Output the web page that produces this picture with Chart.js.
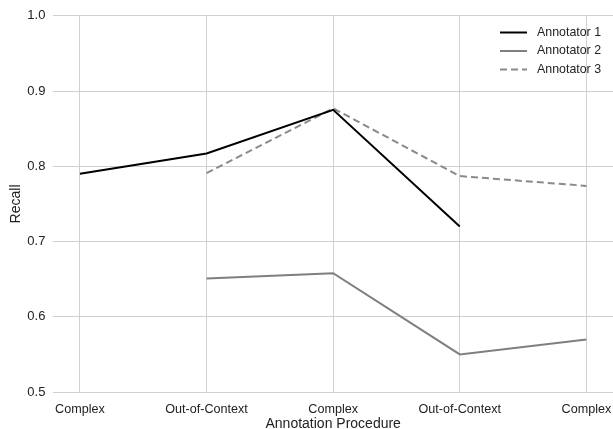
<!DOCTYPE html>
<html>
<head>
<meta charset="utf-8">
<script src="https://cdn.jsdelivr.net/npm/chart.js@4/dist/chart.umd.min.js"></script>
<style>
    html, body { margin: 0; padding: 0; background: #fff; }
    #wrap { width: 613px; height: 429px; position: relative; }
</style>
</head>
<body>
<div id="wrap"><canvas id="chart"></canvas></div>
<script>
// Chart data
const categories = ['Complex', 'Out-of-Context', 'Complex', 'Out-of-Context', 'Complex'];
const annotator1 = [0.790, 0.817, 0.875, 0.720, null];
const annotator2 = [null, 0.651, 0.658, 0.550, 0.570];
const annotator3 = [null, 0.791, 0.877, 0.787, 0.774];
const yTicks = [0.5, 0.6, 0.7, 0.8, 0.9, 1.0];

const FONT = '"Liberation Sans", Arial, Helvetica, sans-serif';
const TEXT = '#222';

function toPoints(values) {
    return values.map((v, i) => ({ x: i, y: v }));
}

// Legend drawn inside the plot, top right
const insideLegend = {
    id: 'insideLegend',
    afterDraw(chart) {
        const ctx = chart.ctx;
        const x0 = 500, y0 = 32.5, rowH = 18.5;
        ctx.save();
        ctx.font = '12.4px ' + FONT;
        ctx.textBaseline = 'middle';
        chart.data.datasets.forEach((ds, i) => {
            const y = y0 + i * rowH;
            ctx.strokeStyle = ds.borderColor;
            ctx.lineWidth = ds.borderWidth;
            ctx.setLineDash(ds.borderDash || []);
            ctx.beginPath();
            ctx.moveTo(x0, y);
            ctx.lineTo(x0 + 27, y);
            ctx.stroke();
            ctx.setLineDash([]);
            ctx.fillStyle = TEXT;
            ctx.fillText(ds.label, x0 + 37, y);
        });
        ctx.restore();
    }
};

new Chart(document.getElementById('chart'), {
    type: 'line',
    data: {
        datasets: [
            { label: 'Annotator 1', data: toPoints(annotator1), borderColor: '#000000', borderWidth: 2 },
            { label: 'Annotator 2', data: toPoints(annotator2), borderColor: '#7f7f7f', borderWidth: 2 },
            { label: 'Annotator 3', data: toPoints(annotator3), borderColor: '#8a8a8a', borderWidth: 2, borderDash: [7, 4] }
        ]
    },
    options: {
        responsive: true,
        maintainAspectRatio: false,
        animation: false,
        layout: { padding: { left: 8, right: 0, top: 14, bottom: -4 } },
        elements: { point: { radius: 0 }, line: { tension: 0, fill: false } },
        plugins: { legend: { display: false }, tooltip: { enabled: false } },
        scales: {
            x: {
                type: 'linear',
                min: -0.21,
                max: 4.21,
                border: { display: false },
                grid: { color: '#d0d0d0', lineWidth: 1, drawTicks: false },
                afterBuildTicks: axis => { axis.ticks = categories.map((c, i) => ({ value: i })); },
                afterFit: axis => { axis.paddingRight = 0; },
                ticks: {
                    padding: 9.5,
                    maxRotation: 0,
                    autoSkip: false,
                    color: TEXT,
                    font: { family: FONT, size: 12.6 },
                    callback: v => categories[v]
                },
                title: { display: true, text: 'Annotation Procedure', color: TEXT, font: { family: FONT, size: 14 }, padding: { top: -10, bottom: 0 } }
            },
            y: {
                min: 0.5,
                max: 1.0,
                border: { display: false },
                grid: { color: '#d0d0d0', lineWidth: 1, drawTicks: false },
                afterBuildTicks: axis => { axis.ticks = yTicks.map(v => ({ value: v })); },
                ticks: {
                    padding: 8,
                    color: TEXT,
                    font: { family: FONT, size: 13 },
                    callback: v => v.toFixed(1)
                },
                title: { display: true, text: 'Recall', color: TEXT, font: { family: FONT, size: 14 }, padding: { top: 0, bottom: -5.5 } }
            }
        }
    },
    plugins: [insideLegend]
});
</script>
</body>
</html>
